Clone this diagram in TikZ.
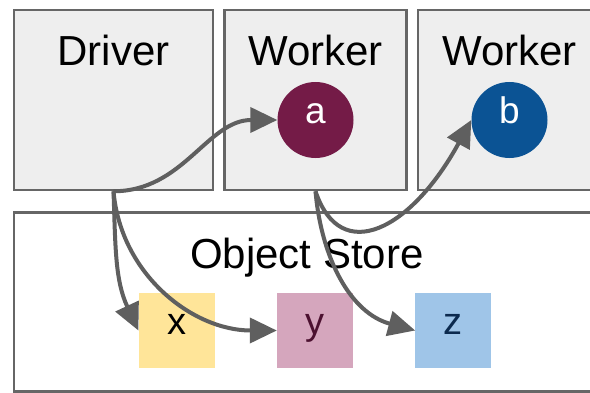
\documentclass[tikz,border=0pt]{standalone}
\usepackage{fontspec}
\setmainfont{Liberation Sans}
\usetikzlibrary{arrows.meta,positioning}

\definecolor{boxgray}{HTML}{EEEEEE}
\definecolor{edgegray}{HTML}{666666}
\definecolor{linkgray}{HTML}{5F5F5F}
\definecolor{objA}{HTML}{741B47}
\definecolor{objB}{HTML}{0B5394}
\definecolor{objX}{HTML}{FFE599}
\definecolor{objY}{HTML}{D5A6BD}
\definecolor{objZ}{HTML}{9FC5E8}
\definecolor{txtY}{HTML}{4C1130}
\definecolor{txtZ}{HTML}{0C2A4E}

\begin{document}
\begin{tikzpicture}[x=1pt, y=1pt,
        proc/.style={draw=edgegray, line width=2.5pt, fill=boxgray, minimum height=180pt, inner sep=0pt},
        title/.style={anchor=base, font=\fontsize{42}{50}\selectfont},
        task/.style={circle, minimum size=76pt, inner sep=0pt, text=white, font=\fontsize{37}{40}\selectfont, text height=0.72em, text depth=0pt},
        obj/.style={minimum width=76pt, minimum height=75pt, inner sep=0pt, font=\fontsize{38}{40}\selectfont, text height=0.72em, text depth=0pt},
        link/.style={draw=linkgray, line width=4pt, -{Triangle[length=27pt,width=25pt]}}
    ]
        \clip (0,0) rectangle (590,392);

        % Driver and worker processes
        \node (driver) [proc, minimum width=199pt] at (113.5,292) {};
        \node (worker1) [proc, minimum width=182pt, right=9pt of driver] {};
        \node (worker2) [proc, minimum width=183pt, right=9pt of worker1] {};

        % Shared object store
        \node (store) [draw=edgegray, line width=2.5pt, fill=white, minimum width=586pt, minimum height=179pt, inner sep=0pt, anchor=north west] at ([yshift=-20pt]driver.south west) {};

        % Titles
        \node (drivertxt) [title] at ([yshift=-57pt]driver.north) {Driver};
        \node (worker1txt) [title] at ([yshift=-57pt]worker1.north) {Worker};
        \node (worker2txt) [title] at ([yshift=-57pt]worker2.north) {Worker};
        \node (storetxt) [title] at ([yshift=-57pt]store.north) {Object Store};

        % Tasks
        \node (a) [task, fill=objA] at ([yshift=-20pt]worker1.center) {a};
        \node (b) [task, fill=objB] at ([yshift=-20pt]worker2.center) {b};

        % Objects
        \node (y) [obj, fill=objY, text=txtY] at (315,61.5) {y};
        \node (x) [obj, fill=objX, left=62pt of y] {x};
        \node (z) [obj, fill=objZ, text=txtZ, right=62pt of y] {z};

        % Calls and results
        \draw [link] (driver.south) to[out=0, in=180] (a.west);
        \draw [link] (driver.south) to[out=-88, in=115] (x.west);
        \draw [link] (driver.south) to[out=-85, in=180] (y.west);
        \draw [link] (worker1.south) .. controls +(25,-75) and +(-60,-110) .. (b.west);
        \draw [link] (worker1.south) to[out=-85, in=165] (z.west);

    \end{tikzpicture}
\end{document}
